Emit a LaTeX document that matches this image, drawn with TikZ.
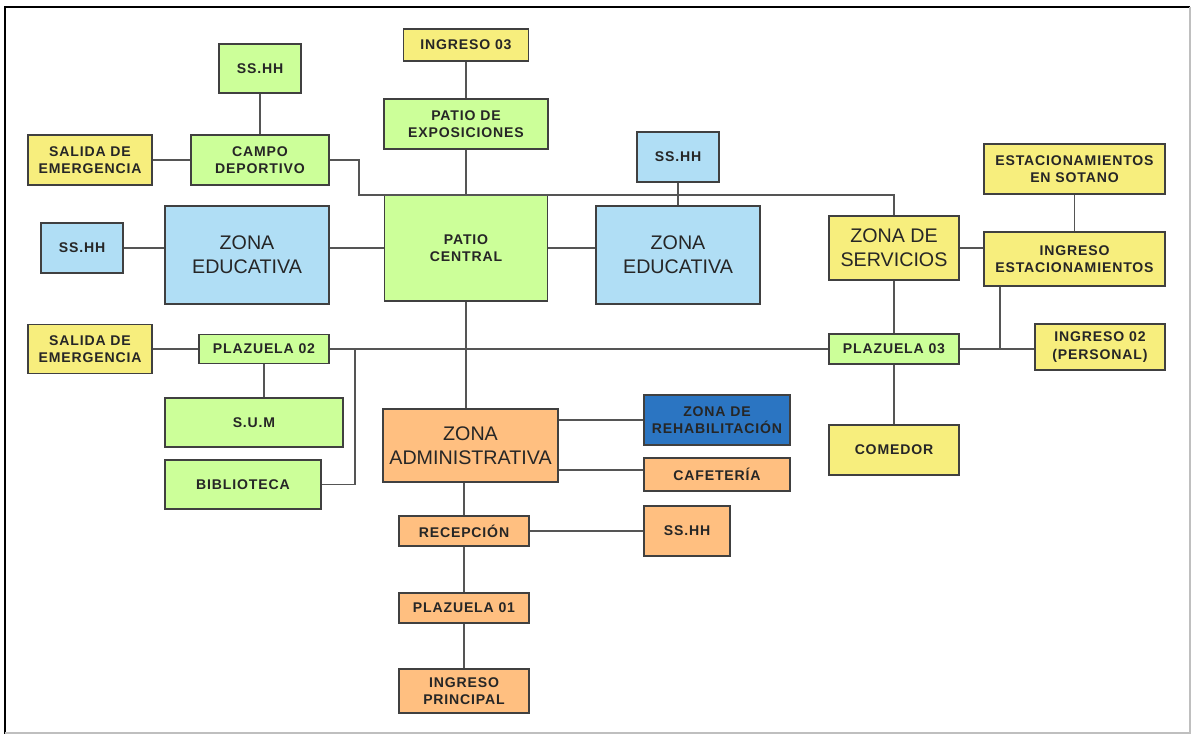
\documentclass[tikz,border=0pt]{standalone}
\usepackage{fontspec}
\setmainfont{Liberation Sans}
\newfontfamily\labelfont{Liberation Sans}[LetterSpace=6]
\usetikzlibrary{calc}
\definecolor{edge}{HTML}{404040}
\definecolor{wire}{HTML}{555555}
\definecolor{lgreen}{HTML}{CCFF99}
\definecolor{lyellow}{HTML}{F7EE7D}
\definecolor{lblue}{HTML}{B0DEF5}
\definecolor{dblue}{HTML}{2B75C2}
\definecolor{lorange}{HTML}{FFBF80}
\tikzset{
  box/.style={draw=edge, line width=1.2pt, align=center, inner sep=0pt, font=\labelfont\fontsize{10}{12.5}\selectfont\bfseries, text=black!85},
  sz/.style 2 args={minimum width=#1*0.025cm, minimum height=#2*0.025cm},
  greenbox/.style={box, fill=lgreen},
  yellowbox/.style={box, fill=lyellow},
  bluebox/.style={box, fill=lblue},
  darkbluebox/.style={box, fill=dblue},
  orangebox/.style={box, fill=lorange},
  bigtext/.style={font=\normalfont\fontsize{14}{17}\selectfont},
  wire/.style={draw=wire, line width=1.2pt}
}

\begin{document}
\begin{tikzpicture}[x=0.025cm, y=-0.025cm]
  \useasboundingbox (0,0) rectangle (1191,734);
  % frame
  \draw[line width=2pt, black] (5,734) -- (5,7) -- (1190,7);
  \draw[line width=1pt, black!25] (1190,7) -- (1190,733) -- (5,733);

  % upper left
  \node[greenbox, sz={82}{49}] (ssA) at (260,68.5) {SS.HH};
  \node[yellowbox, sz={124}{50}] (salA) at (90,160) {SALIDA DE\\EMERGENCIA};
  \node[greenbox, sz={138}{50}] (campo) at (260,160) {CAMPO\\DEPORTIVO};
  \node[bluebox, sz={82}{50}] (ssC) at (82,248) {SS.HH};
  \node[bluebox, bigtext, sz={164}{98}] (zedA) at (247,255) {ZONA\\EDUCATIVA};

  % centre column
  \node[yellowbox, sz={125}{32}] (ing3) at (466,45) {INGRESO 03};
  \node[greenbox, sz={164}{50}] (pexp) at (466,124) {PATIO DE\\EXPOSICIONES};
  \node[greenbox, sz={163}{106}] (pcent) at (466,248) {PATIO\\CENTRAL};
  \node[bluebox, sz={82}{50}] (ssB) at (678,157) {SS.HH};
  \node[bluebox, bigtext, sz={164}{98}] (zedB) at (678,255) {ZONA\\EDUCATIVA};

  % right side
  \node[yellowbox, bigtext, sz={130}{64}] (zserv) at (894,248) {ZONA DE\\SERVICIOS};
  \node[yellowbox, sz={181}{50}] (estac) at (1074.5,169) {ESTACIONAMIENTOS\\EN SOTANO};
  \node[yellowbox, sz={181}{54}] (ingest) at (1074.5,259) {INGRESO\\ESTACIONAMIENTOS};
  \node[greenbox, sz={130}{30}] (plz3) at (894,349) {PLAZUELA 03};
  \node[yellowbox, sz={130}{46}] (ing2) at (1100,347) {INGRESO 02\\(PERSONAL)};
  \node[yellowbox, sz={130}{50}] (comedor) at (894,450) {COMEDOR};

  % lower left
  \node[yellowbox, sz={124}{49}] (salB) at (90,349) {SALIDA DE\\EMERGENCIA};
  \node[greenbox, sz={130}{29}] (plz2) at (264,349) {PLAZUELA 02};
  \node[greenbox, sz={178}{49}] (sum) at (254,422.5) {S.U.M};
  \node[greenbox, sz={156}{49}] (bibl) at (243,484.5) {BIBLIOTECA};

  % administration
  \node[orangebox, bigtext, sz={175}{73}] (zadm) at (470.5,445.5) {ZONA\\ADMINISTRATIVA};
  \node[darkbluebox, sz={146}{50}] (rehab) at (717,420) {ZONA DE\\REHABILITACIÓN};
  \node[orangebox, sz={146}{33}] (cafe) at (717,474.5) {CAFETERÍA};
  \node[orangebox, sz={130}{30}] (recep) at (464,531) {RECEPCIÓN};
  \node[orangebox, sz={86}{50}] (ssD) at (687,531) {SS.HH};
  \node[orangebox, sz={130}{30}] (plz1) at (464,608) {PLAZUELA 01};
  \node[orangebox, sz={130}{44}] (ingp) at (464,691) {INGRESO\\PRINCIPAL};

  \coordinate (jA) at (359,195);
  \coordinate (jB) at (1000,349);
  \coordinate (jC) at (355,349);

  % connectors
  \draw[wire] (ssA.south) -- (campo.north);
  \draw[wire] (salA.east) -- (campo.west);
  \draw[wire] (campo.east) -| (jA) -| (zserv.north);
  \draw[wire] (ing3.south) -- (pexp.north);
  \draw[wire] (pexp.south) -- (pcent.north);
  \draw[wire] (ssB.south) -- (zedB.north);
  \draw[wire] (ssC.east) -- (ssC.east -| zedA.west);
  \draw[wire] (ssC.east -| zedA.east) -- (pcent.west);
  \draw[wire] (pcent.east) -- (pcent.east -| zedB.west);
  \draw[wire] (zserv.east) -- (zserv.east -| ingest.west);
  \draw[wire] (estac.south) -- (ingest.north);
  \draw[wire] (zserv.south) -- (plz3.north);
  \draw[wire] (plz3.south) -- (comedor.north);
  \draw[wire] (jB |- ingest.south) -- (jB);
  \draw[wire] (plz3.east) -- (plz3.east -| ing2.west);
  \draw[wire] (salB.east) -- (plz2.west);
  \draw[wire] (plz2.east) -- (plz3.west);
  \draw[wire] (plz2.south) -- (plz2.south |- sum.north);
  \draw[wire] (bibl.east) -| (jC);
  \draw[wire] (pcent.south) -- (pcent.south |- zadm.north);
  \draw[wire] (rehab.west -| zadm.east) -- (rehab.west);
  \draw[wire] (0,470 -| zadm.east) -- (0,470 -| cafe.west);
  \draw[wire] (recep.north |- zadm.south) -- (recep.north);
  \draw[wire] (recep.east) -- (ssD.west);
  \draw[wire] (recep.south) -- (plz1.north);
  \draw[wire] (plz1.south) -- (ingp.north);
\end{tikzpicture}
\end{document}
